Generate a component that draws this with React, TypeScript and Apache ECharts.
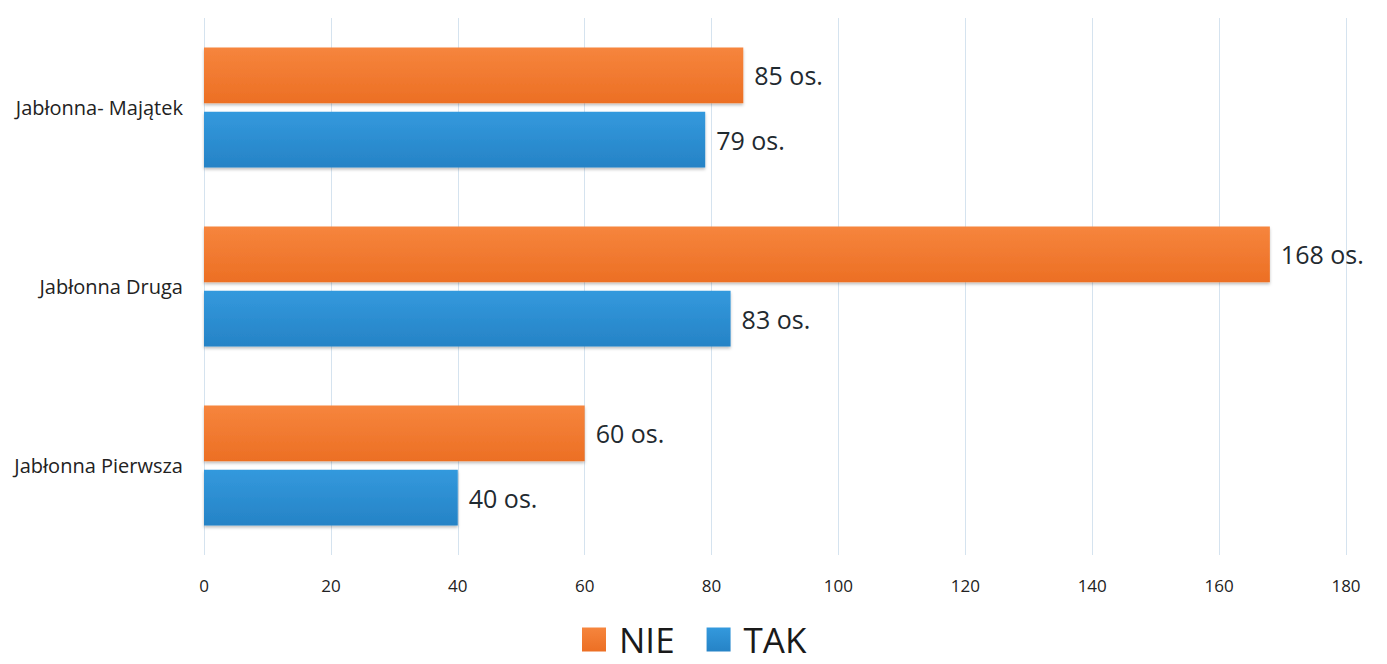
import React, { useEffect, useRef } from "react";
import * as echarts from "echarts";

const categories = ["Jabłonna Pierwsza", "Jabłonna Druga", "Jabłonna- Majątek"];
const nieValues = [60, 168, 85];
const takValues = [40, 83, 79];
const xTicks = [0, 20, 40, 60, 80, 100, 120, 140, 160, 180];

export default function App() {
  const ref = useRef<HTMLDivElement>(null);
  useEffect(() => {
    const chart = echarts.init(ref.current!, null, { renderer: "svg" });
    const labelStyle = {
      show: true,
      position: "right" as const,
      distance: 11,
      formatter: (p: any) => `${p.value} os.`,
      color: "#1f2a30",
      fontSize: 25,
      fontFamily: "Open Sans",
    };
    chart.setOption({
      animation: false,
      backgroundColor: "#ffffff",
      grid: { left: 204, right: 41, top: 18, bottom: 109, containLabel: false },
      legend: {
        top: 622,
        left: 582,
        padding: 0,
        itemWidth: 24,
        itemHeight: 24,
        itemGap: 32,
        icon: "rect",
        data: ["NIE", "TAK"],
        textStyle: {
          fontSize: 35,
          lineHeight: 35,
          color: "#1a1a1a",
          fontFamily: "Open Sans",
          padding: [0, 0, 0, 8],
        },
      },
      xAxis: {
        type: "value",
        min: xTicks[0],
        max: xTicks[xTicks.length - 1],
        interval: 20,
        axisLine: { show: false },
        axisTick: { show: false },
        splitLine: { show: true, lineStyle: { color: "#d5e3ef", width: 1 } },
        axisLabel: { color: "#222", fontSize: 17, fontFamily: "Open Sans", margin: 22 },
      },
      yAxis: {
        type: "category",
        data: categories,
        axisLine: { show: false },
        axisTick: { show: false },
        axisLabel: { color: "#222", fontSize: 20, fontFamily: "Open Sans", margin: 21 },
      },
      series: [
        {
          name: "NIE",
          type: "bar",
          data: nieValues,
          barGap: "15%",
          barCategoryGap: "33%",
          itemStyle: {
            color: new echarts.graphic.LinearGradient(0, 0, 0, 1, [
              { offset: 0, color: "#f6853d" },
              { offset: 1, color: "#ec6f24" },
            ]),
            shadowColor: "rgba(0,0,0,0.25)",
            shadowBlur: 3,
            shadowOffsetY: 2,
          },
          label: labelStyle,
        },
        {
          name: "TAK",
          type: "bar",
          data: takValues,
          barGap: "15%",
          barCategoryGap: "33%",
          itemStyle: {
            color: new echarts.graphic.LinearGradient(0, 0, 0, 1, [
              { offset: 0, color: "#3399dd" },
              { offset: 1, color: "#2683c6" },
            ]),
            shadowColor: "rgba(0,0,0,0.25)",
            shadowBlur: 3,
            shadowOffsetY: 2,
          },
          label: labelStyle,
        },
      ],
    });
    return () => chart.dispose();
  }, []);
  return <div ref={ref} style={{ width: 1387, height: 664, position: "absolute", left: 0, top: 0 }} />;
}
